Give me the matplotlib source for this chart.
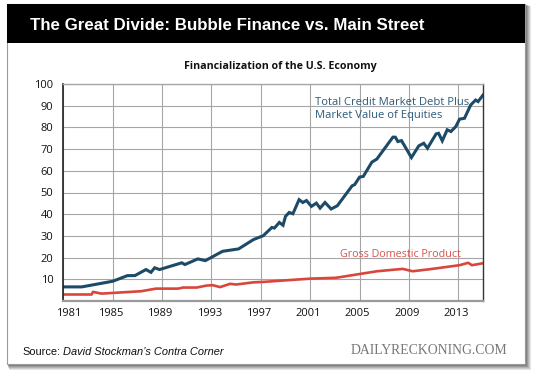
import matplotlib
matplotlib.use("Agg")
import matplotlib.pyplot as plt
from matplotlib.patches import Rectangle
from matplotlib.transforms import ScaledTranslation

# ---- data ----
debt_years = [1981, 1982.5, 1985, 1986.2, 1986.8, 1987.7, 1988.1, 1988.4, 1988.8,
              1990.6, 1990.85, 1991.9, 1992.5, 1992.9, 1993.9, 1995.2, 1996.4,
              1997.2, 1997.9, 1998.1, 1998.5, 1998.8, 1999.0, 1999.3, 1999.6,
              2000.1, 2000.4, 2000.7, 2001.1, 2001.5, 2001.8, 2002.2, 2002.7,
              2003.2, 2004.4, 2004.6, 2005.0, 2005.3, 2006.0, 2006.4, 2007.7,
              2007.9, 2008.1, 2008.4, 2009.2, 2009.8, 2010.2, 2010.5, 2011.2,
              2011.4, 2011.7, 2012.1, 2012.4, 2012.8, 2013.1, 2013.5, 2014.0,
              2014.4, 2014.6, 2015.0]
debt_values = [6.5, 6.5, 9.1, 11.7, 11.7, 14.5, 13.2, 15.3, 14.5,
               17.6, 16.8, 19.4, 18.6, 19.8, 22.9, 24.0, 28.3,
               30.1, 33.9, 33.6, 36.2, 34.9, 39.0, 40.8, 40.2,
               46.7, 45.4, 46.3, 43.6, 45.1, 42.8, 45.4, 42.4,
               43.9, 53.1, 53.6, 57.1, 57.4, 64.0, 65.4, 75.5,
               75.5, 73.5, 73.9, 66.1, 71.5, 72.7, 70.4, 77.0,
               77.3, 73.8, 78.9, 78.1, 80.4, 83.8, 84.2, 90.3,
               92.6, 91.9, 94.9]

gdp_years = [1981, 1983.3, 1983.4, 1984.1, 1987.3, 1988.5, 1990.3, 1990.7, 1991.8,
             1992.6, 1993.1, 1993.7, 1994.5, 1995.0, 1996.4, 1997.2, 2001.0,
             2003.1, 2004.2, 2006.4, 2008.5, 2009.3, 2010.9, 2013.1, 2013.8,
             2014.1, 2014.8, 2015.0]
gdp_values = [3.0, 3.0, 4.2, 3.4, 4.5, 5.7, 5.7, 6.2, 6.2,
              7.1, 7.3, 6.4, 7.9, 7.6, 8.6, 8.8, 10.3,
              10.7, 11.7, 13.7, 14.8, 13.7, 14.8, 16.5, 17.6,
              16.5, 17.2, 17.4]

x_ticks = [1981, 1985, 1989, 1993, 1997, 2001, 2005, 2009, 2013]
y_ticks = [10, 20, 30, 40, 50, 60, 70, 80, 90, 100]

title = "The Great Divide: Bubble Finance vs. Main Street"
subtitle = "Financialization of the U.S. Economy"
debt_label = "Total Credit Market Debt Plus\nMarket Value of Equities"
gdp_label = "Gross Domestic Product"
source_head = "Source:"
source_body = "David Stockman\u2019s Contra Corner"
brand = "DAILYRECKONING.COM"

W, H = 540, 376
fig = plt.figure(figsize=(W / 100, H / 100), dpi=100)
fig.patch.set_facecolor("white")


def fx(x):
    return x / W


def fy(y):
    return 1 - y / H


def rect(x0, y0, x1, y1, **kw):
    fig.patches.append(Rectangle((fx(x0), fy(y1)), fx(x1) - fx(x0), fy(y0) - fy(y1),
                                 transform=fig.transFigure, zorder=-5, **kw))


# shadow
for i, a in enumerate([0.10, 0.10, 0.12, 0.14, 0.16]):
    d = 6 - i
    rect(7 + d * 0.3, 4 + d * 0.3, 525 + d, 364 + d, facecolor="black", edgecolor="none", alpha=a)
# card
rect(7, 4, 525, 364, facecolor="white", edgecolor="#9a9a9a", linewidth=0.8)
# header
rect(7, 4, 525, 43, facecolor="black", edgecolor="none")

fig.text(fx(30), fy(25), title, color="white", fontsize=12.15, fontweight="bold",
         family="Liberation Sans", ha="left", va="center")
fig.text(fx(280), fy(66), subtitle, color="#111111", fontsize=7.7, fontweight="bold",
         family="Open Sans", ha="center", va="center")

ax = fig.add_axes([fx(63.3), fy(301), fx(483) - fx(63.3), fy(84) - fy(301)])
ax.set_zorder(5)
ax.patch.set_alpha(0)
ax.set_xlim(1981, 2015)
ax.set_ylim(0, 100)
ax.set_xticks(x_ticks)
ax.set_yticks(y_ticks)
ax.set_xticklabels([str(t) for t in x_ticks])
ax.grid(True, color="#a6a6a6", linewidth=0.8)
ax.set_axisbelow(True)
ax.tick_params(length=0, labelsize=8, colors="#111111")
ax.tick_params(axis="y", pad=7)
ax.tick_params(axis="x", pad=5)
for lab in ax.get_xticklabels() + ax.get_yticklabels():
    lab.set_family("Open Sans")
# nudge the x labels like the reference (first one right, others slightly left)
xlabs = ax.get_xticklabels()
for i, lab in enumerate(xlabs):
    dx = 5 if i == 0 else -2
    lab.set_transform(lab.get_transform() + ScaledTranslation(dx / 100, 0, fig.dpi_scale_trans))

ax.spines["left"].set_color("#222222")
ax.spines["left"].set_linewidth(1.2)
ax.spines["right"].set_color("#333333")
ax.spines["right"].set_linewidth(1.0)
ax.spines["top"].set_color("#a6a6a6")
ax.spines["top"].set_linewidth(1.0)
ax.spines["bottom"].set_color("#9a9a9a")
ax.spines["bottom"].set_linewidth(1.6)

ax.plot(debt_years, debt_values, color="#1d4a66", linewidth=2.2, solid_joinstyle="miter")
ax.plot(gdp_years, gdp_values, color="#d9463c", linewidth=1.9)

ax.text(2001.4, 88.5, debt_label, color="#2d5b7a", fontsize=8.15, family="Open Sans",
        ha="left", va="center", linespacing=1.25)
ax.text(2003.4, 21.5, gdp_label, color="#d9544d", fontsize=7.75, family="Open Sans",
        ha="left", va="center")

t1 = fig.text(fx(22), fy(352), source_head, color="#111111", fontsize=7.9,
              family="Liberation Sans", ha="left", va="center")
fig.canvas.draw()
bb = t1.get_window_extent()
fig.text((bb.x1 + 3) / W, fy(352), source_body, color="#111111", fontsize=7.9,
         family="Liberation Sans", style="italic", ha="left", va="center")
fig.text(fx(507), fy(351), brand, color="#777777", fontsize=9.9,
         family="Liberation Serif", ha="right", va="center")

fig.savefig("out.png", dpi=100, facecolor="white")
